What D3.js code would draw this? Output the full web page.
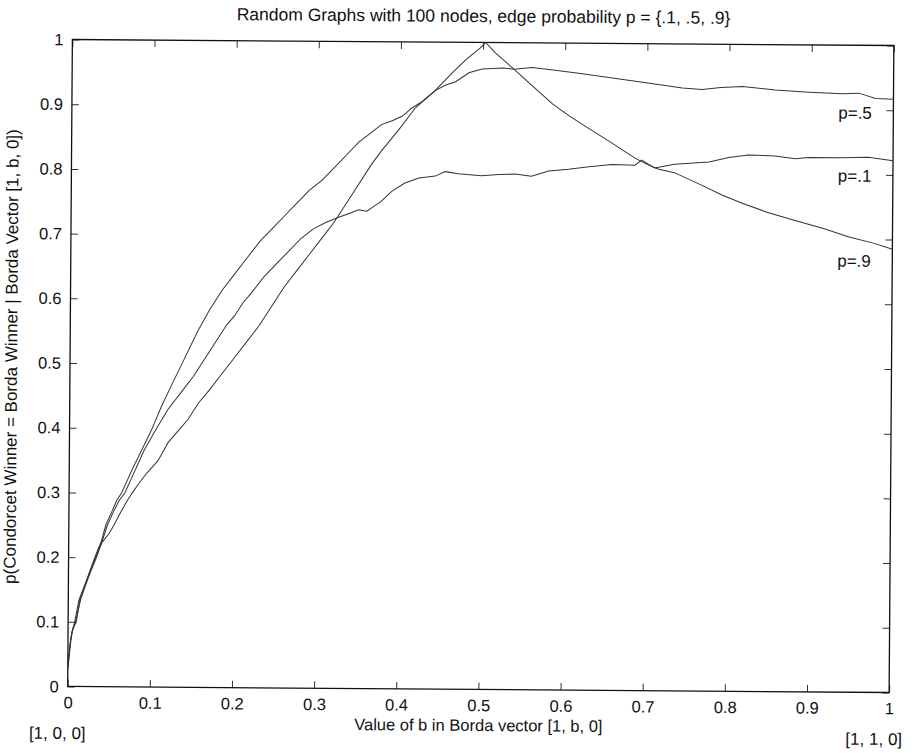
<!DOCTYPE html>
<html>
<head>
<meta charset="utf-8">
<script src="https://cdn.jsdelivr.net/npm/d3@7"></script>
<style>
  body { margin: 0; background: #fff; }
  text { font-family: "Liberation Sans", Arial, sans-serif; fill: #111; }
</style>
</head>
<body>
<div id="container"></div>
<script>
var width = 917,
    height = 753;

// plot box (unrotated frame, the scan is tilted a little)
var margin = {left: 70, top: 42.5, right: 917 - 891.5, bottom: 753 - 689.5};

var titleText = "Random Graphs with 100 nodes, edge probability p = {.1, .5, .9}";
var xLabelText = "Value of b in Borda vector [1, b, 0]";
var yLabelText = "p(Condorcet Winner = Borda Winner | Borda Vector [1, b, 0])";
var xTicks = [0, .1, .2, .3, .4, .5, .6, .7, .8, .9, 1];
var yTicks = [0, .1, .2, .3, .4, .5, .6, .7, .8, .9, 1];
var endLabels = ["[1, 0, 0]", "[1, 1, 0]"];

// [b, probability]
var p5 = [
  [0, 0.03], [0.003, 0.07], [0.0045, 0.083], [0.008, 0.10], [0.013, 0.134], [0.019, 0.154],
  [0.026, 0.178], [0.032, 0.2], [0.04, 0.226], [0.045, 0.25], [0.052, 0.27], [0.058, 0.288],
  [0.064, 0.30], [0.071, 0.32], [0.078, 0.34], [0.088, 0.366], [0.1, 0.398], [0.112, 0.435],
  [0.125, 0.47], [0.14, 0.51], [0.155, 0.55], [0.17, 0.585], [0.185, 0.615], [0.2, 0.64],
  [0.215, 0.665], [0.23, 0.69], [0.245, 0.71], [0.26, 0.73], [0.275, 0.75], [0.29, 0.77],
  [0.305, 0.785], [0.32, 0.805], [0.335, 0.825], [0.35, 0.845], [0.365, 0.86], [0.377, 0.872],
  [0.39, 0.878], [0.402, 0.885], [0.414, 0.898], [0.426, 0.908], [0.442, 0.925], [0.455, 0.934],
  [0.467, 0.939], [0.483, 0.953], [0.499, 0.959], [0.524, 0.961], [0.538, 0.959], [0.56, 0.962],
  [0.588, 0.958], [0.621, 0.953], [0.662, 0.946], [0.703, 0.939], [0.743, 0.932], [0.767, 0.930],
  [0.79, 0.933], [0.816, 0.935], [0.856, 0.930], [0.897, 0.927], [0.938, 0.925], [0.958, 0.926],
  [0.978, 0.918], [1.0, 0.917]
];

var p1 = [
  [0, 0.025], [0.003, 0.065], [0.005, 0.085], [0.009, 0.10], [0.015, 0.134], [0.02, 0.154],
  [0.027, 0.178], [0.034, 0.2], [0.041, 0.226], [0.047, 0.25], [0.054, 0.27], [0.061, 0.288],
  [0.068, 0.30], [0.075, 0.32], [0.082, 0.34], [0.091, 0.366], [0.106, 0.40], [0.12, 0.43],
  [0.135, 0.455], [0.15, 0.48], [0.165, 0.51], [0.18, 0.54], [0.19, 0.56], [0.2, 0.575],
  [0.21, 0.595], [0.22, 0.61], [0.235, 0.635], [0.25, 0.655], [0.265, 0.675], [0.28, 0.695],
  [0.295, 0.71], [0.31, 0.72], [0.325, 0.728], [0.34, 0.735], [0.35, 0.74], [0.36, 0.738],
  [0.368, 0.745], [0.377, 0.753], [0.39, 0.769], [0.406, 0.782], [0.423, 0.79], [0.443, 0.793],
  [0.455, 0.80], [0.471, 0.797], [0.499, 0.794], [0.52, 0.796], [0.54, 0.797], [0.56, 0.794],
  [0.581, 0.802], [0.605, 0.805], [0.63, 0.809], [0.658, 0.813], [0.686, 0.812], [0.694, 0.82],
  [0.71, 0.808], [0.734, 0.814], [0.776, 0.818], [0.80, 0.825], [0.824, 0.829], [0.856, 0.828],
  [0.881, 0.824], [0.897, 0.826], [0.938, 0.826], [0.97, 0.827], [1.0, 0.822]
];

var p9 = [
  [0, 0.035], [0.003, 0.07], [0.006, 0.09], [0.01, 0.10], [0.014, 0.134], [0.02, 0.154],
  [0.026, 0.178], [0.033, 0.2], [0.04, 0.222], [0.049, 0.237], [0.055, 0.25], [0.063, 0.27],
  [0.071, 0.288], [0.077, 0.30], [0.085, 0.315], [0.094, 0.33], [0.108, 0.35], [0.12, 0.378],
  [0.132, 0.396], [0.144, 0.414], [0.157, 0.44], [0.17, 0.46], [0.185, 0.485], [0.2, 0.51],
  [0.215, 0.535], [0.23, 0.56], [0.245, 0.59], [0.26, 0.62], [0.275, 0.645], [0.29, 0.67],
  [0.305, 0.695], [0.32, 0.72], [0.335, 0.75], [0.35, 0.78], [0.365, 0.81], [0.377, 0.831],
  [0.398, 0.864], [0.418, 0.898], [0.442, 0.925], [0.463, 0.953], [0.479, 0.973], [0.496, 0.991],
  [0.503, 1.0], [0.515, 0.984], [0.538, 0.959], [0.56, 0.934], [0.585, 0.906], [0.605, 0.888],
  [0.621, 0.875], [0.654, 0.849], [0.686, 0.823], [0.703, 0.812], [0.715, 0.806], [0.734, 0.801],
  [0.767, 0.782], [0.792, 0.767], [0.816, 0.755], [0.849, 0.740], [0.877, 0.730], [0.917, 0.716],
  [0.946, 0.704], [0.978, 0.694], [1.0, 0.685]
];

var series = [
  {name: "p=.5", values: p5, labelY: 116},
  {name: "p=.1", values: p1, labelY: 179},
  {name: "p=.9", values: p9, labelY: 264}
];

var svg = d3.select("#container")
            .append("svg")
            .attr("width", width)
            .attr("height", height);

svg.append("rect").attr("width", width).attr("height", height).attr("fill", "#fff");

var root = svg.append("g")
              .attr("transform", "rotate(0.42, 481, 366)");

var x = d3.scaleLinear().domain([0, 1]).range([margin.left, width - margin.right]);
var y = d3.scaleLinear().domain([0, 1]).range([height - margin.bottom, margin.top]);

var tickLen = 7;

// axes: ticks on all four sides, pointing in
root.append("g")
  .attr("transform", "translate(0," + y(0) + ")")
  .call(d3.axisBottom(x).tickValues(xTicks).tickSize(-tickLen).tickPadding(10).tickFormat(d3.format("~g")));
root.append("g")
  .attr("transform", "translate(0," + y(1) + ")")
  .call(d3.axisTop(x).tickValues(xTicks).tickSize(-tickLen).tickFormat(""));
root.append("g")
  .attr("transform", "translate(" + x(0) + ",0)")
  .call(d3.axisLeft(y).tickValues(yTicks).tickSize(-tickLen).tickPadding(9).tickFormat(d3.format("~g")));
root.append("g")
  .attr("transform", "translate(" + x(1) + ",0)")
  .call(d3.axisRight(y).tickValues(yTicks).tickSize(-tickLen).tickFormat(""));

root.selectAll(".domain").remove();
root.selectAll(".tick line").attr("stroke", "#333").attr("stroke-width", 1);
root.selectAll(".tick text")
    .style("font-size", "16.5px")
    .style("font-family", "'Liberation Sans', Arial, sans-serif")
    .attr("fill", "#111");

root.append("rect")
  .attr("x", x(0)).attr("y", y(1))
  .attr("width", x(1) - x(0)).attr("height", y(0) - y(1))
  .attr("fill", "none")
  .attr("stroke", "#111")
  .attr("stroke-width", 1.3);

var line = d3.line()
  .x(function(d) { return x(d[0]); })
  .y(function(d) { return y(d[1]); });

root.selectAll(".curve")
  .data(series)
  .enter().append("path")
  .attr("class", "curve")
  .attr("d", function(d) { return line(d.values); })
  .attr("fill", "none")
  .attr("stroke", "#333")
  .attr("stroke-width", 1);

root.selectAll(".plabel")
  .data(series)
  .enter().append("text")
  .attr("class", "plabel")
  .attr("x", 870)
  .attr("y", function(d) { return d.labelY; })
  .attr("text-anchor", "end")
  .style("font-size", "17px")
  .text(function(d) { return d.name; });

// title and labels
root.append("text")
  .attr("x", 481).attr("y", 22)
  .attr("text-anchor", "middle")
  .style("font-size", "17.5px")
  .text(titleText);

root.append("text")
  .attr("x", 481).attr("y", 731)
  .attr("text-anchor", "middle")
  .style("font-size", "16.5px")
  .text(xLabelText);

root.append("text")
  .attr("transform", "translate(17,360) rotate(-90)")
  .attr("text-anchor", "middle")
  .style("font-size", "17px")
  .text(yLabelText);

root.selectAll(".endlabel")
  .data(endLabels)
  .enter().append("text")
  .attr("class", "endlabel")
  .attr("x", function(d, i) { return i == 0 ? x(0) - 10 : x(1) - 15; })
  .attr("y", 742)
  .attr("text-anchor", "middle")
  .style("font-size", "17px")
  .text(function(d) { return d; });
</script>
</body>
</html>
